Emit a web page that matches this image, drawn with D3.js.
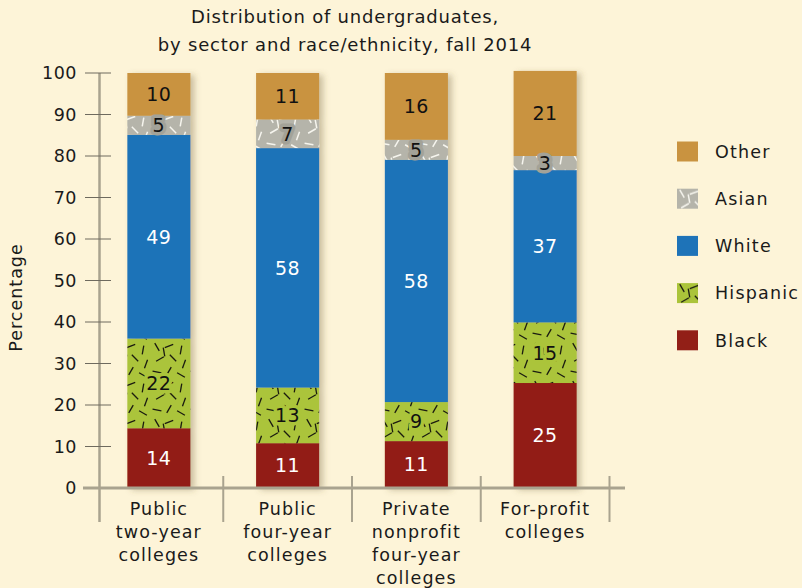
<!DOCTYPE html>
<html>
<head>
<meta charset="utf-8">
<script src="https://cdn.jsdelivr.net/npm/d3@7"></script>
<style>
  body { margin: 0; background: #fdf4d8; }
  svg { display: block; font-family: "DejaVu Sans", sans-serif; }
</style>
</head>
<body>
<svg id="chart" width="802" height="588"></svg>
<script>
// data (segment sizes in percent, labels are rounded)
const categories = ['Public two-year colleges', 'Public four-year colleges', 'Private nonprofit four-year colleges', 'For-profit colleges'];
const categoryLines = [['Public', 'two-year', 'colleges'], ['Public', 'four-year', 'colleges'], ['Private', 'nonprofit', 'four-year', 'colleges'], ['For-profit', 'colleges']];
const seriesNames = ['Black', 'Hispanic', 'White', 'Asian', 'Other'];
const black = [14.4, 10.8, 11.3, 25.3];
const hispanic = [21.6, 13.4, 9.4, 14.6];
const white = [49.1, 57.7, 58.4, 36.7];
const asian = [4.6, 6.9, 4.8, 3.4];
const other = [10.3, 11.2, 16.1, 20.5];
const yTicks = [0, 10, 20, 30, 40, 50, 60, 70, 80, 90, 100];
const legendOrder = ['Other', 'Asian', 'White', 'Hispanic', 'Black'];

const rows = categories.map((c, i) => ({
  category: c,
  Black: black[i], Hispanic: hispanic[i], White: white[i], Asian: asian[i], Other: other[i]
}));

const svg = d3.select('#chart');

const fills = {
  Black: '#921f17',
  Hispanic: 'url(#pat-hispanic)',
  White: '#1e73b8',
  Asian: 'url(#pat-asian)',
  Other: '#c99340'
};
const labelColor = { Black: '#fff', Hispanic: '#111', White: '#fff', Asian: '#111', Other: '#111' };

// patterns of short dashes (x, y, angle)
const dashes = [[5, 5, 60], [17, 4, -20], [29, 8, 100], [8, 17, 150], [21, 16, 45], [32, 22, -70], [5, 30, 10], [17, 29, 120], [29, 33, 30], [12, 10, 80]];
const defs = svg.append('defs');

const makePattern = (id, bg, stroke, sw) => {
  const p = defs.append('pattern')
    .attr('id', id)
    .attr('patternUnits', 'userSpaceOnUse')
    .attr('width', 38).attr('height', 38);
  p.append('rect').attr('width', 38).attr('height', 38).attr('fill', bg);
  p.selectAll('line').data(dashes).join('line')
    .attr('x1', d => d[0] - 4.5 * Math.cos(d[2] * Math.PI / 180))
    .attr('y1', d => d[1] - 4.5 * Math.sin(d[2] * Math.PI / 180))
    .attr('x2', d => d[0] + 4.5 * Math.cos(d[2] * Math.PI / 180))
    .attr('y2', d => d[1] + 4.5 * Math.sin(d[2] * Math.PI / 180))
    .attr('stroke', stroke)
    .attr('stroke-width', sw);
};
makePattern('pat-hispanic', '#abc43a', '#1a1a10', 1.3);
makePattern('pat-asian', '#b5b4aa', '#f6f5ee', 1.5);

const shadow = defs.append('filter').attr('id', 'shadow')
  .attr('x', '-20%').attr('y', '-5%').attr('width', '150%').attr('height', '115%');
shadow.append('feDropShadow')
  .attr('dx', 4).attr('dy', 2).attr('stdDeviation', 3)
  .attr('flood-color', '#6b5a30').attr('flood-opacity', 0.35);

const xScale = d3.scaleBand()
  .domain(categories)
  .range([94.5, 609.5])
  .paddingInner(0.51)
  .paddingOuter(0.255);

const yScale = d3.scaleLinear()
  .domain([0, 100])
  .range([488, 73]);

const stacked = d3.stack().keys(seriesNames)(rows);

// title
svg.append('text')
  .attr('x', 345).attr('text-anchor', 'middle')
  .attr('font-size', 18).attr('letter-spacing', 0.8).attr('fill', '#1a1a1a')
  .selectAll('tspan')
  .data(['Distribution of undergraduates,', 'by sector and race/ethnicity, fall 2014'])
  .join('tspan')
    .attr('x', 345)
    .attr('y', (d, i) => 23 + i * 28)
    .text(d => d);

// y axis
const axisG = svg.append('g').attr('class', 'y-axis');
axisG.append('line')
  .attr('x1', 99.5).attr('x2', 99.5)
  .attr('y1', yScale(100)).attr('y2', 522)
  .attr('stroke', '#a9a38f').attr('stroke-width', 2.5);

axisG.selectAll('.tick').data(yTicks).join('line')
  .attr('class', 'tick')
  .attr('x1', 85).attr('x2', 111)
  .attr('y1', d => yScale(d)).attr('y2', d => yScale(d))
  .attr('stroke', '#6e6a5e').attr('stroke-width', 1);

axisG.selectAll('.tick-label').data(yTicks).join('text')
  .attr('class', 'tick-label')
  .attr('x', 77).attr('y', d => yScale(d))
  .attr('dy', '0.36em')
  .attr('text-anchor', 'end')
  .attr('font-size', 17.5).attr('letter-spacing', 0.5).attr('fill', '#1a1a1a')
  .text(d => d);

svg.append('text')
  .attr('transform', `translate(22,${(yScale(0) + yScale(100)) / 2 + 17}) rotate(-90)`)
  .attr('text-anchor', 'middle')
  .attr('font-size', 17.5).attr('letter-spacing', 1).attr('fill', '#1a1a1a')
  .text('Percentage');

// bars
const barG = svg.append('g').attr('class', 'bars');
const catG = barG.selectAll('g').data(categories).join('g')
  .attr('filter', 'url(#shadow)');

catG.selectAll('rect')
  .data((c, i) => stacked.map(s => ({ key: s.key, y0: s[i][0], y1: s[i][1], category: c })))
  .join('rect')
    .attr('x', d => xScale(d.category))
    .attr('width', xScale.bandwidth())
    .attr('y', d => yScale(d.y1))
    .attr('height', d => yScale(d.y0) - yScale(d.y1))
    .attr('fill', d => fills[d.key]);

// segment labels
const segs = [];
stacked.forEach(s => s.forEach((p, i) => segs.push({ key: s.key, y0: p[0], y1: p[1], category: categories[i] })));

const haloColor = { Hispanic: '#abc43a', Asian: '#a3a298' };

barG.selectAll('.seg-label').data(segs).join('text')
  .attr('class', 'seg-label')
  .attr('x', d => xScale(d.category) + xScale.bandwidth() / 2)
  .attr('y', d => yScale((d.y0 + d.y1) / 2))
  .attr('dy', '0.36em')
  .attr('text-anchor', 'middle')
  .attr('font-size', 19).attr('letter-spacing', 0.5)
  .attr('fill', d => labelColor[d.key])
  .attr('stroke', d => haloColor[d.key] || 'none')
  .attr('stroke-width', d => haloColor[d.key] ? 7 : 0)
  .attr('stroke-linejoin', 'round')
  .attr('paint-order', 'stroke')
  .text(d => Math.round(d.y1 - d.y0));

// baseline and dividers
svg.append('line')
  .attr('x1', 83).attr('x2', 625)
  .attr('y1', yScale(0)).attr('y2', yScale(0))
  .attr('stroke', '#a9a38f').attr('stroke-width', 3);

const step = xScale.step();
const gap = step - xScale.bandwidth();
svg.selectAll('.divider').data(categories).join('line')
  .attr('class', 'divider')
  .attr('x1', d => xScale(d) + xScale.bandwidth() + gap / 2)
  .attr('x2', d => xScale(d) + xScale.bandwidth() + gap / 2)
  .attr('y1', 476).attr('y2', 522)
  .attr('stroke', '#a9a38f').attr('stroke-width', 2);

// category labels
svg.selectAll('.cat-label').data(categories).join('text')
  .attr('class', 'cat-label')
  .attr('text-anchor', 'middle')
  .attr('font-size', 17.5).attr('letter-spacing', 1.1).attr('fill', '#1a1a1a')
  .selectAll('tspan')
  .data((c, i) => categoryLines[i].map(t => ({ t, c })))
  .join('tspan')
    .attr('x', d => xScale(d.c) + xScale.bandwidth() / 2)
    .attr('y', (d, j) => 515 + j * 23)
    .text(d => d.t);

// legend
const legend = svg.append('g').attr('class', 'legend');
const item = legend.selectAll('g').data(legendOrder).join('g')
  .attr('transform', (d, i) => `translate(677,${141.5 + i * 47.2})`);

item.append('rect')
  .attr('width', 21).attr('height', 20)
  .attr('fill', d => fills[d]);

item.append('text')
  .attr('x', 38).attr('y', 10)
  .attr('dy', '0.36em')
  .attr('font-size', 17.5).attr('letter-spacing', 1.2).attr('fill', '#1a1a1a')
  .text(d => d);
</script>
</body>
</html>
